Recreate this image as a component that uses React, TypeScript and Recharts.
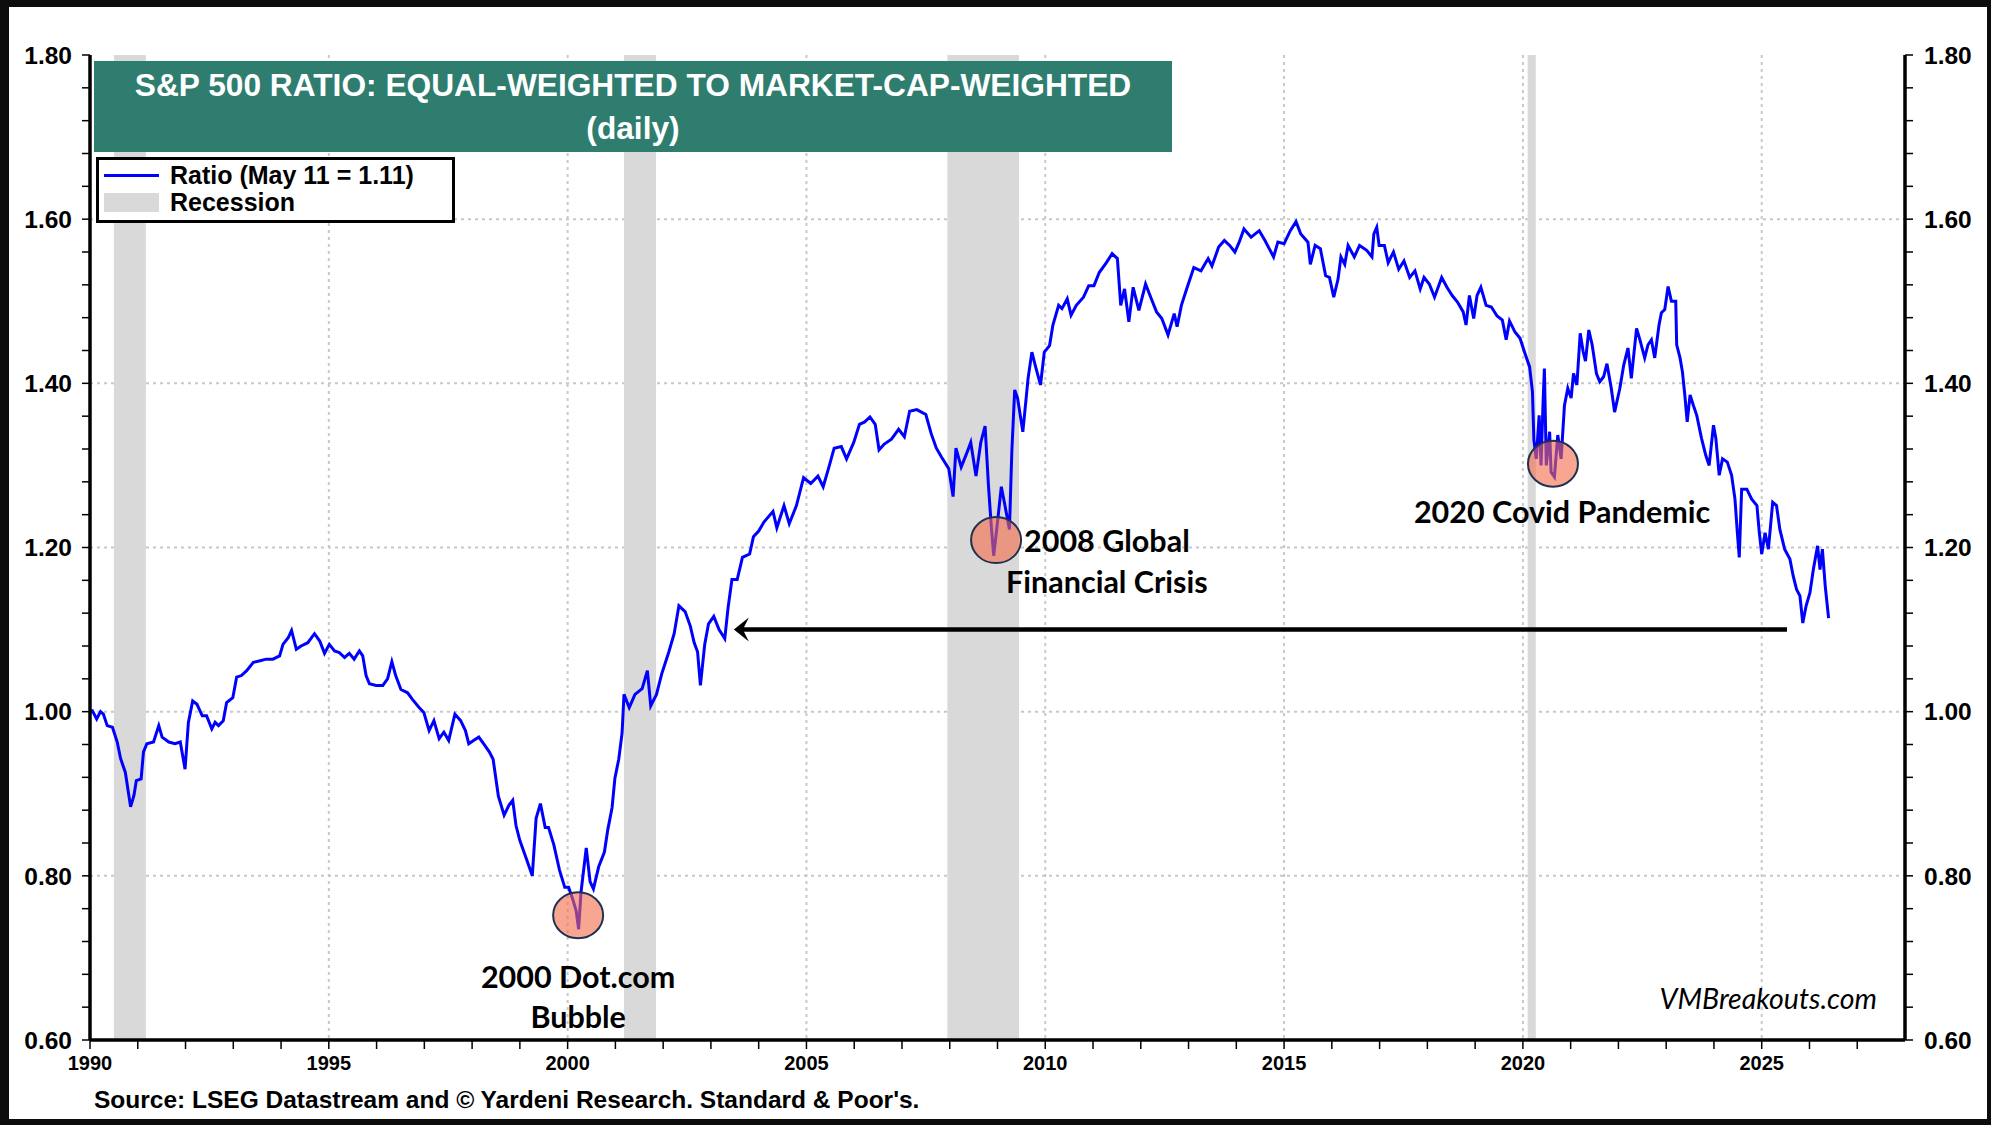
import {
  CartesianGrid,
  ComposedChart,
  Line,
  ReferenceArea,
  ReferenceDot,
  ReferenceLine,
  XAxis,
  YAxis,
} from 'recharts';

const W = 1991;
const H = 1125;
const BLUE = '#0000FF';
const TEAL = '#2E7D6F';
const BAND = '#D9D9D9';
const ARIAL = '"Liberation Sans", Arial, sans-serif';
const CALIBRI = 'Lato, "Open Sans", sans-serif';

// ratio, decimal years
const years = [
  1990.0, 1990.05, 1990.14, 1990.22, 1990.28, 1990.36, 1990.47, 1990.57, 1990.64, 1990.74,
  1990.85, 1990.92, 1990.97, 1991.07, 1991.12, 1991.19, 1991.33, 1991.44, 1991.51, 1991.65,
  1991.78, 1991.89, 1991.99, 1992.06, 1992.15, 1992.24, 1992.35, 1992.44, 1992.55, 1992.62,
  1992.69, 1992.79, 1992.86, 1992.99, 1993.07, 1993.17, 1993.28, 1993.42, 1993.56, 1993.69,
  1993.83, 1993.97, 1994.04, 1994.15, 1994.22, 1994.32, 1994.42, 1994.56, 1994.7, 1994.81,
  1994.91, 1995.01, 1995.12, 1995.22, 1995.33, 1995.43, 1995.53, 1995.64, 1995.71, 1995.78,
  1995.85, 1995.99, 1996.13, 1996.23, 1996.32, 1996.4, 1996.51, 1996.65, 1996.75, 1996.89,
  1996.99, 1997.1, 1997.2, 1997.31, 1997.41, 1997.51, 1997.64, 1997.76, 1997.86, 1997.93,
  1998.03, 1998.14, 1998.24, 1998.36, 1998.44, 1998.55, 1998.67, 1998.77, 1998.85, 1998.92,
  1999.0, 1999.11, 1999.26, 1999.34, 1999.43, 1999.53, 1999.6, 1999.71, 1999.83, 1999.94,
  2000.02, 2000.11, 2000.18, 2000.23, 2000.28, 2000.39, 2000.47, 2000.54, 2000.65, 2000.77,
  2000.84, 2000.93, 2000.99, 2001.07, 2001.14, 2001.18, 2001.29, 2001.41, 2001.56, 2001.67,
  2001.74, 2001.86, 2001.97, 2002.12, 2002.23, 2002.33, 2002.46, 2002.57, 2002.65, 2002.72,
  2002.78, 2002.87, 2002.95, 2003.06, 2003.17, 2003.29, 2003.36, 2003.44, 2003.55, 2003.66,
  2003.81, 2003.89, 2004.0, 2004.11, 2004.3, 2004.38, 2004.53, 2004.64, 2004.79, 2004.94,
  2005.09, 2005.24, 2005.35, 2005.47, 2005.58, 2005.73, 2005.84, 2005.99, 2006.11, 2006.22,
  2006.33, 2006.44, 2006.52, 2006.63, 2006.78, 2006.93, 2007.05, 2007.16, 2007.31, 2007.5,
  2007.61, 2007.72, 2007.83, 2007.98, 2008.07, 2008.13, 2008.24, 2008.35, 2008.44, 2008.55,
  2008.65, 2008.74, 2008.81, 2008.87, 2008.92, 2009.0, 2009.08, 2009.15, 2009.25, 2009.3,
  2009.36, 2009.42, 2009.53, 2009.6, 2009.64, 2009.72, 2009.79, 2009.9, 2009.98, 2010.09,
  2010.16, 2010.28, 2010.35, 2010.46, 2010.54, 2010.65, 2010.8, 2010.91, 2011.02, 2011.13,
  2011.28, 2011.4, 2011.51, 2011.58, 2011.66, 2011.75, 2011.84, 2011.96, 2012.1, 2012.22,
  2012.33, 2012.44, 2012.57, 2012.7, 2012.76, 2012.85, 2012.96, 2013.11, 2013.26, 2013.41,
  2013.49, 2013.63, 2013.75, 2013.86, 2013.97, 2014.06, 2014.16, 2014.31, 2014.48, 2014.6,
  2014.78, 2014.87, 2015.0, 2015.13, 2015.25, 2015.35, 2015.5, 2015.55, 2015.65, 2015.76,
  2015.87, 2015.95, 2016.04, 2016.13, 2016.19, 2016.27, 2016.34, 2016.47, 2016.58, 2016.73,
  2016.84, 2016.88, 2016.94, 2016.99, 2017.1, 2017.18, 2017.29, 2017.4, 2017.51, 2017.63,
  2017.74, 2017.85, 2017.93, 2018.04, 2018.15, 2018.3, 2018.41, 2018.52, 2018.63, 2018.75,
  2018.81, 2018.88, 2018.97, 2019.04, 2019.12, 2019.23, 2019.34, 2019.46, 2019.57, 2019.65,
  2019.72, 2019.83, 2019.94, 2020.04, 2020.14, 2020.2, 2020.23, 2020.28, 2020.34, 2020.38,
  2020.42, 2020.45, 2020.49, 2020.56, 2020.59, 2020.66, 2020.73, 2020.8, 2020.87, 2020.94,
  2021.01, 2021.06, 2021.13, 2021.2, 2021.26, 2021.31, 2021.38, 2021.45, 2021.54, 2021.61,
  2021.69, 2021.76, 2021.85, 2021.92, 2022.03, 2022.11, 2022.2, 2022.27, 2022.38, 2022.45,
  2022.55, 2022.62, 2022.69, 2022.76, 2022.85, 2022.9, 2022.97, 2023.04, 2023.11, 2023.2,
  2023.22, 2023.29, 2023.34, 2023.39, 2023.44, 2023.5, 2023.57, 2023.64, 2023.74, 2023.83,
  2023.9, 2023.99, 2024.04, 2024.11, 2024.18, 2024.28, 2024.37, 2024.44, 2024.49, 2024.53,
  2024.58, 2024.69, 2024.79, 2024.9, 2024.95, 2025.0, 2025.07, 2025.14, 2025.23, 2025.31,
  2025.38, 2025.48, 2025.59, 2025.66, 2025.73, 2025.8, 2025.86, 2025.93, 2026.01, 2026.08,
  2026.17, 2026.22, 2026.27, 2026.33, 2026.4,
];

const ratio = [
  1.0, 1.001, 0.991, 1.0, 0.997, 0.983, 0.981, 0.963, 0.943, 0.926,
  0.884, 0.898, 0.916, 0.918, 0.951, 0.961, 0.963, 0.983, 0.969, 0.963,
  0.961, 0.963, 0.93, 0.987, 1.013, 1.009, 0.995, 0.995, 0.979, 0.987,
  0.983, 0.989, 1.011, 1.017, 1.042, 1.044, 1.05, 1.06, 1.062, 1.064,
  1.064, 1.068, 1.082, 1.09, 1.099, 1.076, 1.08, 1.084, 1.095, 1.086,
  1.071, 1.082, 1.074, 1.072, 1.066, 1.071, 1.064, 1.074, 1.068, 1.044,
  1.034, 1.032, 1.032, 1.04, 1.061, 1.044, 1.027, 1.023, 1.015, 1.005,
  0.999, 0.977, 0.989, 0.967, 0.975, 0.965, 0.997, 0.989, 0.977, 0.961,
  0.965, 0.969, 0.961, 0.951, 0.942, 0.897, 0.874, 0.886, 0.892, 0.861,
  0.843, 0.825, 0.8, 0.87, 0.888, 0.859, 0.859, 0.838, 0.807, 0.786,
  0.786, 0.771, 0.757, 0.735, 0.78, 0.834, 0.793, 0.784, 0.811, 0.829,
  0.856, 0.883, 0.919, 0.942, 0.974, 1.021, 1.005, 1.021, 1.028, 1.05,
  1.007, 1.021, 1.046, 1.073, 1.095, 1.129, 1.122, 1.104, 1.084, 1.073,
  1.032, 1.082, 1.107, 1.116, 1.1, 1.089, 1.127, 1.161, 1.161, 1.188,
  1.192, 1.213, 1.22, 1.231, 1.244, 1.224, 1.251, 1.229, 1.251, 1.285,
  1.278, 1.287, 1.274, 1.298, 1.321, 1.323, 1.308, 1.328, 1.35, 1.353,
  1.359, 1.35, 1.319, 1.326, 1.332, 1.344, 1.335, 1.366, 1.368, 1.362,
  1.339, 1.321, 1.31, 1.296, 1.262, 1.321, 1.298, 1.314, 1.328, 1.287,
  1.328, 1.348, 1.276, 1.226, 1.19, 1.231, 1.274, 1.253, 1.222, 1.317,
  1.392, 1.382, 1.341, 1.382, 1.406, 1.438, 1.422, 1.398, 1.438, 1.446,
  1.471, 1.495, 1.491, 1.503, 1.483, 1.495, 1.505, 1.519, 1.519, 1.535,
  1.547, 1.558, 1.552, 1.495, 1.515, 1.475, 1.517, 1.489, 1.521, 1.503,
  1.487, 1.479, 1.459, 1.485, 1.469, 1.495, 1.515, 1.541, 1.537, 1.552,
  1.543, 1.566, 1.574, 1.568, 1.56, 1.572, 1.588, 1.578, 1.586, 1.574,
  1.554, 1.572, 1.57, 1.586, 1.597, 1.582, 1.572, 1.545, 1.568, 1.564,
  1.531, 1.529, 1.505, 1.527, 1.554, 1.545, 1.568, 1.554, 1.568, 1.562,
  1.554, 1.582, 1.59, 1.568, 1.568, 1.547, 1.56, 1.539, 1.549, 1.529,
  1.537, 1.515, 1.529, 1.521, 1.505, 1.529, 1.517, 1.507, 1.499, 1.487,
  1.471, 1.507, 1.479, 1.507, 1.517, 1.495, 1.493, 1.482, 1.477, 1.453,
  1.476, 1.463, 1.455, 1.437, 1.42, 1.39, 1.331, 1.308, 1.361, 1.3,
  1.373, 1.418, 1.3, 1.341, 1.292, 1.286, 1.337, 1.308, 1.373, 1.394,
  1.382, 1.412, 1.398, 1.461, 1.439, 1.427, 1.465, 1.447, 1.412, 1.402,
  1.408, 1.424, 1.394, 1.365, 1.394, 1.422, 1.443, 1.406, 1.467, 1.453,
  1.431, 1.447, 1.453, 1.431, 1.471, 1.486, 1.49, 1.518, 1.5, 1.5,
  1.447, 1.431, 1.414, 1.386, 1.353, 1.386, 1.373, 1.361, 1.333, 1.312,
  1.3, 1.349, 1.333, 1.288, 1.308, 1.304, 1.288, 1.259, 1.218, 1.188,
  1.271, 1.271, 1.259, 1.251, 1.218, 1.192, 1.218, 1.198, 1.255, 1.251,
  1.222, 1.198, 1.186, 1.165, 1.149, 1.141, 1.108, 1.129, 1.145, 1.173,
  1.202, 1.173, 1.198, 1.153, 1.114,
];

const recessionStart = [1990.5, 2001.18, 2007.95, 2020.1];
const recessionEnd = [1991.17, 2001.85, 2009.45, 2020.27];

const xTicks = [
  1990, 1991, 1992, 1993, 1994, 1995, 1996, 1997, 1998, 1999, 2000, 2001, 2002, 2003,
  2004, 2005, 2006, 2007, 2008, 2009, 2010, 2011, 2012, 2013, 2014, 2015, 2016, 2017,
  2018, 2019, 2020, 2021, 2022, 2023, 2024, 2025, 2026, 2027,
];
const xLabels = [1990, 1995, 2000, 2005, 2010, 2015, 2020, 2025];
const gridYears = [1995, 2000, 2005, 2010, 2015, 2020, 2025];

const yTicks = [
  0.6, 0.64, 0.68, 0.72, 0.76, 0.8, 0.84, 0.88, 0.92, 0.96, 1.0, 1.04, 1.08, 1.12, 1.16,
  1.2, 1.24, 1.28, 1.32, 1.36, 1.4, 1.44, 1.48, 1.52, 1.56, 1.6, 1.64, 1.68, 1.72, 1.76, 1.8,
];
const yLabels = [0.6, 0.8, 1.0, 1.2, 1.4, 1.6, 1.8];
const gridValues = [0.8, 1.0, 1.2, 1.4, 1.6];

const circleYear = [2000.22, 2008.97, 2020.63];
const circleValue = [0.752, 1.209, 1.302];

const noteText = ['2000 Dot.com', 'Bubble', '2008 Global', 'Financial Crisis', '2020 Covid Pandemic'];
const noteYear = [2000.22, 2000.22, 2011.29, 2011.29, 2020.82];
const noteValue = [0.676, 0.628, 1.207, 1.157, 1.243];

const arrowFrom = { year: 2025.53, value: 1.1 };
const arrowTo = { year: 2003.48, value: 1.1 };

const data = years.map((year, i) => ({ year, ratio: ratio[i] }));

function XTick({ x, y, payload }: any) {
  if (!xLabels.includes(payload.value)) return <g />;
  return (
    <text x={x} y={y} dy="0.71em" textAnchor="middle" fontFamily={ARIAL} fontWeight={700} fontSize={20} fill="#000">
      {payload.value}
    </text>
  );
}

function YTick({ x, y, payload, textAnchor }: any) {
  const v = payload.value;
  if (!yLabels.some((l) => Math.abs(l - v) < 1e-6)) return <g />;
  return (
    <text x={x} y={y} dy="0.36em" textAnchor={textAnchor} fontFamily={ARIAL} fontWeight={700} fontSize={24.5} fill="#000">
      {v.toFixed(2)}
    </text>
  );
}

function ArrowShape(props: any) {
  const { x1, y1, x2, y2 } = props;
  const tip = Math.min(x1, x2);
  const tail = Math.max(x1, x2);
  const y = (y1 + y2) / 2;
  return (
    <g>
      <line x1={tail} y1={y} x2={tip + 8} y2={y} stroke="#000" strokeWidth={4.5} />
      <path d={`M${tip},${y} L${tip + 15},${y - 12} L${tip + 9},${y} L${tip + 15},${y + 12} Z`} fill="#000" />
    </g>
  );
}

export default function App() {
  return (
    <div style={{ position: 'absolute', left: 0, top: 0, width: W, height: H, background: '#0d0d0d', overflow: 'hidden' }}>
      <div style={{ position: 'absolute', left: 9, top: 7, width: 1978, height: 1112, background: '#fff' }} />

      <div style={{ position: 'absolute', left: 0, top: 0 }}>
        <ComposedChart width={W} height={H} data={data} margin={{ top: 55, right: 6, bottom: 45, left: 10 }}>
          <ReferenceArea x1={recessionStart[0]} x2={recessionEnd[0]} fill={BAND} fillOpacity={1} strokeOpacity={0} />
          <ReferenceArea x1={recessionStart[1]} x2={recessionEnd[1]} fill={BAND} fillOpacity={1} strokeOpacity={0} />
          <ReferenceArea x1={recessionStart[2]} x2={recessionEnd[2]} fill={BAND} fillOpacity={1} strokeOpacity={0} />
          <ReferenceArea x1={recessionStart[3]} x2={recessionEnd[3]} fill={BAND} fillOpacity={1} strokeOpacity={0} />
          <CartesianGrid
            horizontalValues={gridValues}
            verticalValues={gridYears}
            stroke="#C8C8C8"
            strokeWidth={2}
            strokeDasharray="3 4"
          />
          <XAxis
            dataKey="year"
            type="number"
            domain={[1990, 2028]}
            allowDataOverflow
            ticks={xTicks}
            interval={0}
            tick={<XTick />}
            tickSize={9}
            tickMargin={7}
            height={40}
            axisLine={{ stroke: '#000', strokeWidth: 3.5 }}
            tickLine={{ stroke: '#000', strokeWidth: 1.5 }}
          />
          <XAxis
            xAxisId="top"
            orientation="top"
            type="number"
            domain={[1990, 2028]}
            height={0}
            tick={false}
            tickLine={false}
            axisLine={{ stroke: '#000', strokeWidth: 3.5 }}
          />
          <YAxis
            type="number"
            domain={[0.6, 1.8]}
            allowDataOverflow
            ticks={yTicks}
            interval={0}
            width={80}
            tick={<YTick />}
            tickSize={8}
            tickMargin={10}
            axisLine={{ stroke: '#000', strokeWidth: 3.5 }}
            tickLine={{ stroke: '#000', strokeWidth: 1.5 }}
          />
          <YAxis
            yAxisId="right"
            orientation="right"
            type="number"
            domain={[0.6, 1.8]}
            allowDataOverflow
            ticks={yTicks}
            interval={0}
            width={80}
            tick={<YTick />}
            tickSize={8}
            tickMargin={11}
            axisLine={{ stroke: '#000', strokeWidth: 3.5 }}
            tickLine={{ stroke: '#000', strokeWidth: 1.5 }}
          />
          <Line
            type="linear"
            dataKey="ratio"
            stroke={BLUE}
            strokeWidth={3}
            dot={false}
            activeDot={false}
            isAnimationActive={false}
          />
          <ReferenceLine
            segment={[
              { x: arrowFrom.year, y: arrowFrom.value },
              { x: arrowTo.year, y: arrowTo.value },
            ]}
            shape={(p: any) => <ArrowShape {...p} />}
          />
          {circleYear.map((yr, i) => (
            <ReferenceDot
              key={`c${i}`}
              x={yr}
              y={circleValue[i]}
              r={24}
              shape={(p: any) => (
                <ellipse cx={p.cx} cy={p.cy} rx={25} ry={23} fill="#F46A4A" fillOpacity={0.6} stroke="#1F3050" strokeWidth={2} />
              )}
            />
          ))}
          {noteText.map((t, i) => (
            <ReferenceDot
              key={`n${i}`}
              x={noteYear[i]}
              y={noteValue[i]}
              r={1}
              shape={(p: any) => (
                <text x={p.cx} y={p.cy} dy="0.35em" textAnchor="middle" fontFamily={CALIBRI} fontWeight={700} fontSize={30.5} fill="#000">
                  {t}
                </text>
              )}
            />
          ))}
        </ComposedChart>
      </div>

      <div
        style={{
          position: 'absolute', left: 94, top: 61, width: 1078, height: 91, background: TEAL, color: '#fff',
          fontFamily: ARIAL, fontWeight: 700, fontSize: 31.7, lineHeight: '43px', textAlign: 'center',
          paddingTop: 3, boxSizing: 'border-box',
        }}
      >
        <div>S&amp;P 500 RATIO: EQUAL-WEIGHTED TO MARKET-CAP-WEIGHTED</div>
        <div>(daily)</div>
      </div>

      <div
        style={{
          position: 'absolute', left: 96, top: 157, width: 359, height: 66, background: '#fff',
          border: '3px solid #000', boxSizing: 'border-box', fontFamily: ARIAL, fontWeight: 700, fontSize: 25,
        }}
      >
        <div style={{ position: 'absolute', left: 5, top: 14, width: 55, height: 2.5, background: BLUE }} />
        <div style={{ position: 'absolute', left: 71, top: 3, lineHeight: '25px', whiteSpace: 'nowrap' }}>Ratio (May 11 = 1.11)</div>
        <div style={{ position: 'absolute', left: 5, top: 33, width: 55, height: 19, background: BAND }} />
        <div style={{ position: 'absolute', left: 71, top: 30, lineHeight: '25px', whiteSpace: 'nowrap' }}>Recession</div>
      </div>

      <div
        style={{
          position: 'absolute', right: 114, top: 984, fontFamily: CALIBRI, fontStyle: 'italic', fontSize: 28.5,
          lineHeight: '28px', color: '#000', whiteSpace: 'nowrap',
        }}
      >
        VMBreakouts.com
      </div>

      <div
        style={{
          position: 'absolute', left: 94, top: 1087, fontFamily: ARIAL, fontWeight: 700, fontSize: 24.5,
          lineHeight: '26px', color: '#000', whiteSpace: 'nowrap',
        }}
      >
        Source: LSEG Datastream and © Yardeni Research. Standard &amp; Poor's.
      </div>
    </div>
  );
}
